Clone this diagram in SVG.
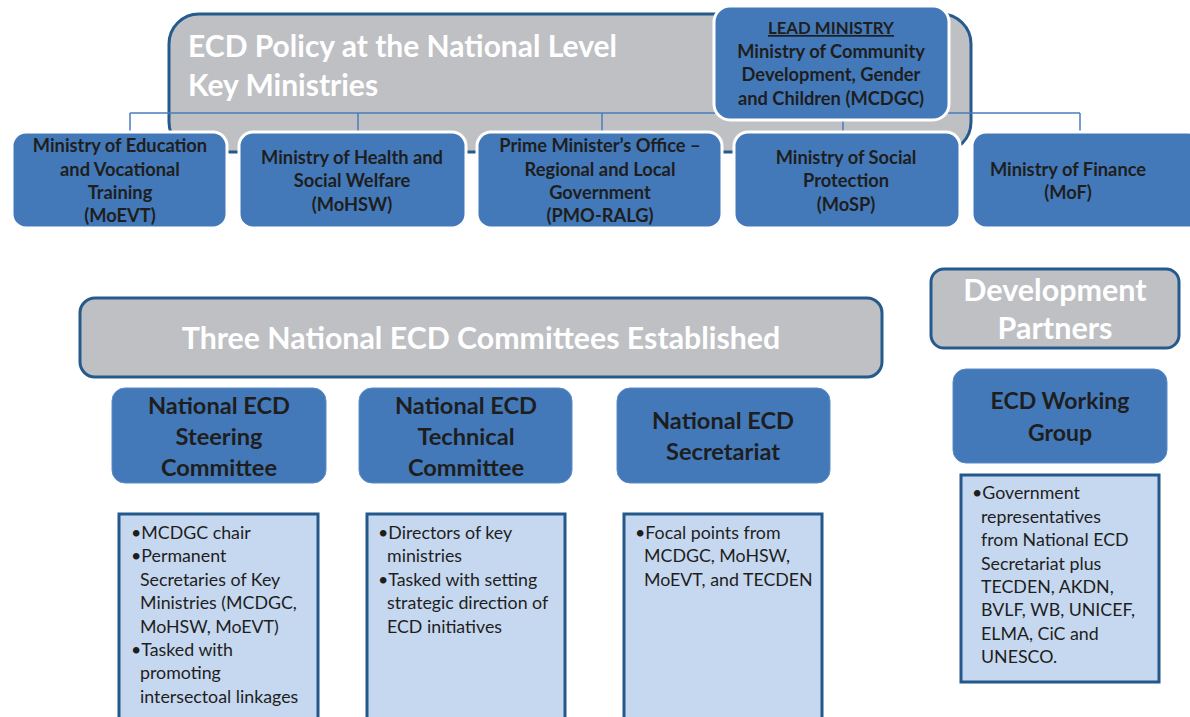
<svg xmlns="http://www.w3.org/2000/svg" width="1190" height="717" viewBox="0 0 1190 717">
<style>
.grey{fill:#BFC0C4;stroke:#245A8C;stroke-width:3}
.blue{fill:#4379B9;stroke:#FFFFFF;stroke-width:3}
.cblue{fill:#4379B9;stroke:#5A8CC6;stroke-width:1}
.list{fill:#C6D8EF;stroke:#24578A;stroke-width:3}
.conn{stroke:#4A7EBB;stroke-width:1.5;fill:none}
.t{font-family:Lato,"Liberation Sans",sans-serif;font-weight:bold;fill:#1E1E1E;text-anchor:middle}
.m{font-size:18.3px}
.c{font-size:23.6px}
.w{font-family:Lato,"Liberation Sans",sans-serif;font-weight:bold;fill:#FFFFFF}
.b{font-family:Lato,"Liberation Sans",sans-serif;font-size:17.8px;fill:#1E1E1E}
</style>
<rect width="1190" height="717" fill="#FFFFFF"/>
<g id="policy">
<rect class="grey" x="169" y="14" width="802" height="138" rx="30"/>
<text class="w" x="188" y="57" font-size="30">ECD Policy at the National Level</text>
<text class="w" x="188" y="96" font-size="30">Key Ministries</text>
</g>
<g id="connectors">
<path class="conn" d="M130 113H1080M130 113V133M358 113V133M602 113V133M843 113V133M1080 113V133"/>
</g>
<g id="lead">
<rect class="blue" x="714" y="6" width="235" height="114" rx="16"/>
<text class="t" x="831" y="34" font-size="16.8" text-decoration="underline">LEAD MINISTRY</text>
<text class="t m" x="831" y="58">Ministry of Community</text>
<text class="t m" x="831" y="81">Development, Gender</text>
<text class="t m" x="831" y="105">and Children (MCDGC)</text>
</g>
<g id="moevt">
<rect class="blue" x="12" y="132" width="215" height="96" rx="14"/>
<text class="t m" x="120" y="152">Ministry of Education</text>
<text class="t m" x="120" y="176">and Vocational</text>
<text class="t m" x="120" y="199">Training</text>
<text class="t m" x="120" y="222">(MoEVT)</text>
</g>
<g id="mohsw">
<rect class="blue" x="239" y="132" width="227" height="96" rx="14"/>
<text class="t m" x="352" y="164">Ministry of Health and</text>
<text class="t m" x="352" y="187">Social Welfare</text>
<text class="t m" x="352" y="211">(MoHSW)</text>
</g>
<g id="pmo">
<rect class="blue" x="477" y="132" width="245" height="96" rx="14"/>
<text class="t m" x="600" y="152">Prime Minister’s Office –</text>
<text class="t m" x="600" y="176">Regional and Local</text>
<text class="t m" x="600" y="199">Government</text>
<text class="t m" x="600" y="222">(PMO-RALG)</text>
</g>
<g id="mosp">
<rect class="blue" x="734" y="132" width="226" height="96" rx="14"/>
<text class="t m" x="846" y="164">Ministry of Social</text>
<text class="t m" x="846" y="187">Protection</text>
<text class="t m" x="846" y="211">(MoSP)</text>
</g>
<g id="mof">
<rect class="blue" x="972" y="132" width="230" height="96" rx="14"/>
<text class="t m" x="1068" y="176">Ministry of Finance</text>
<text class="t m" x="1068" y="199">(MoF)</text>
</g>
<g id="committees">
<rect class="grey" x="80" y="298" width="802" height="79" rx="15"/>
<text class="w" x="481" y="349" font-size="30.3" text-anchor="middle">Three National ECD Committees Established</text>
</g>
<g id="steering">
<rect class="cblue" x="112" y="388" width="214" height="95" rx="13"/>
<text class="t c" x="219" y="414">National ECD</text>
<text class="t c" x="219" y="445">Steering</text>
<text class="t c" x="219" y="476">Committee</text>
</g>
<g id="technical">
<rect class="cblue" x="359" y="388" width="213" height="95" rx="13"/>
<text class="t c" x="466" y="414">National ECD</text>
<text class="t c" x="466" y="445">Technical</text>
<text class="t c" x="466" y="476">Committee</text>
</g>
<g id="secretariat">
<rect class="cblue" x="617" y="388" width="213" height="95" rx="13"/>
<text class="t c" x="723" y="429">National ECD</text>
<text class="t c" x="723" y="460">Secretariat</text>
</g>
<g id="partners">
<rect class="grey" x="931" y="269" width="248" height="79" rx="13"/>
<text class="w" x="1055" y="301" font-size="30.5" text-anchor="middle">Development</text>
<text class="w" x="1055" y="339" font-size="30.5" text-anchor="middle">Partners</text>
</g>
<g id="working">
<rect class="cblue" x="953" y="369" width="214" height="94" rx="13"/>
<text class="t" x="1060" y="409" font-size="23">ECD Working</text>
<text class="t" x="1060" y="441" font-size="23">Group</text>
</g>
<g id="steering-list">
<rect class="list" x="119" y="514" width="199" height="220"/>
<text class="b" x="131" y="539">•MCDGC chair</text>
<text class="b" x="131" y="562">•Permanent</text>
<text class="b" x="140" y="586">Secretaries of Key</text>
<text class="b" x="140" y="609">Ministries (MCDGC,</text>
<text class="b" x="140" y="633">MoHSW, MoEVT)</text>
<text class="b" x="131" y="656">•Tasked with</text>
<text class="b" x="140" y="679">promoting</text>
<text class="b" x="140" y="703">intersectoal linkages</text>
</g>
<g id="technical-list">
<rect class="list" x="367" y="514" width="198" height="220"/>
<text class="b" x="378" y="539">•Directors of key</text>
<text class="b" x="387" y="562">ministries</text>
<text class="b" x="378" y="586">•Tasked with setting</text>
<text class="b" x="387" y="609">strategic direction of</text>
<text class="b" x="387" y="633">ECD initiatives</text>
</g>
<g id="secretariat-list">
<rect class="list" x="624" y="514" width="198" height="220"/>
<text class="b" x="635" y="539">•Focal points from</text>
<text class="b" x="644" y="562">MCDGC, MoHSW,</text>
<text class="b" x="644" y="586">MoEVT, and TECDEN</text>
</g>
<g id="working-list">
<rect class="list" x="961" y="475" width="198" height="207"/>
<text class="b" x="972" y="499">•Government</text>
<text class="b" x="981" y="523">representatives</text>
<text class="b" x="981" y="546">from National ECD</text>
<text class="b" x="981" y="570">Secretariat plus</text>
<text class="b" x="981" y="593">TECDEN, AKDN,</text>
<text class="b" x="981" y="616">BVLF, WB, UNICEF,</text>
<text class="b" x="981" y="640">ELMA, CiC and</text>
<text class="b" x="981" y="663">UNESCO.</text>
</g>
</svg>
